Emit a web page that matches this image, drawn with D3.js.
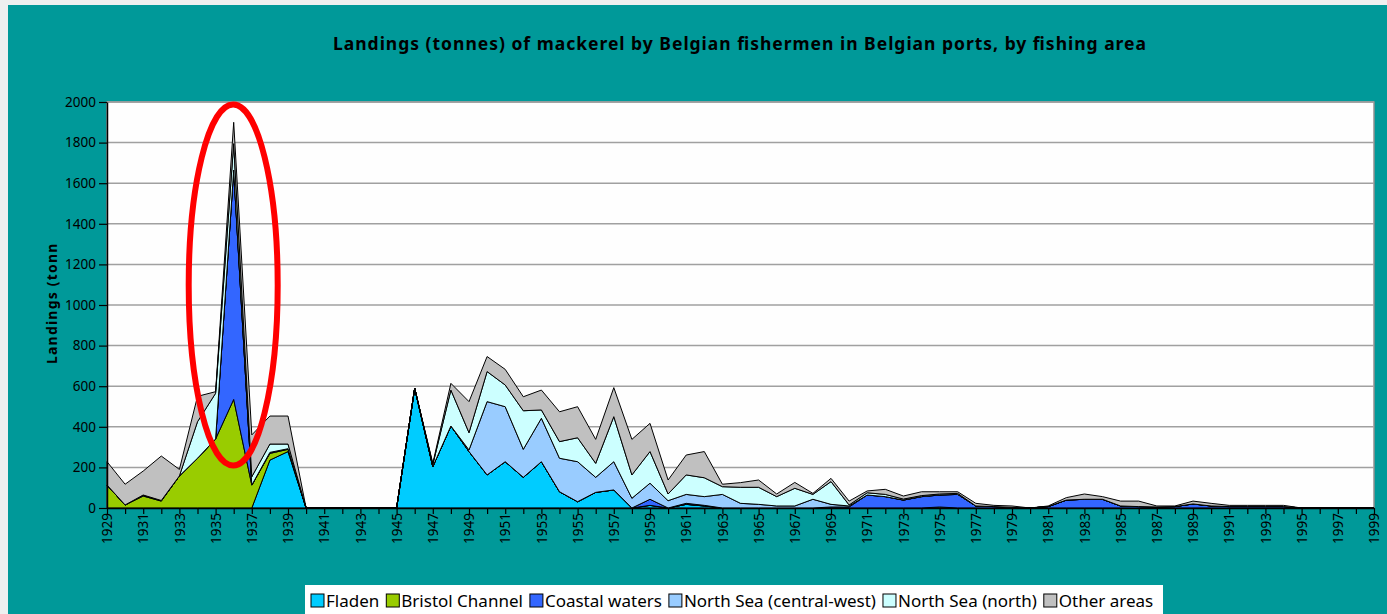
<!DOCTYPE html>
<html>
  <head>
    <meta charset="utf-8">
    <script src="https://cdn.jsdelivr.net/npm/d3@7"></script>
    <style>
      html, body {
        margin: 0;
        padding: 0;
        background: #eef0f0;
        overflow: hidden;
      }
      svg {
        display: block;
        font-family: 'Noto Sans', sans-serif;
      }
    </style>
  </head>
  <body>
    <svg width="1387" height="614"></svg>
    <script>
      // years on the category axis
      const years = d3.range(1929, 2000);
      const seriesNames = ["Fladen", "Bristol Channel", "Coastal waters",
        "North Sea (central-west)", "North Sea (north)", "Other areas"];
      const seriesColors = ["#00ccff", "#99cc00", "#3366ff", "#99ccff", "#ccffff", "#c0c0c0"];
      const yTicks = [0, 200, 400, 600, 800, 1000, 1200, 1400, 1600, 1800, 2000];

      // tonnes per year, 1929..1999
      const fladen = [
        0, 0, 0, 0, 0, 0, 0, 0, 0, 236,
        278, 0, 0, 0, 0, 0, 0, 590, 204, 404,
        278, 163, 228, 151, 228, 80, 31, 77, 89, 0,
        13, 0, 18, 10, 0, 0, 0, 0, 0, 0,
        0, 0, 0, 0, 0, 0, 0, 0, 0, 0,
        0, 0, 0, 0, 0, 0, 0, 0, 0, 0,
        0, 0, 0, 0, 0, 0, 0, 0, 0, 0,
        0];
      const bristol = [
        113, 15, 59, 34, 158, 245, 340, 535, 113, 33,
        11, 0, 0, 0, 0, 0, 0, 0, 0, 0,
        0, 0, 0, 0, 0, 0, 0, 0, 0, 0,
        0, 0, 0, 0, 0, 0, 0, 0, 0, 0,
        0, 0, 0, 0, 0, 0, 5, 0, 0, 0,
        0, 0, 0, 0, 0, 0, 0, 0, 0, 0,
        0, 0, 0, 0, 0, 0, 0, 0, 0, 0,
        0];
      const coastal = [
        0, 0, 5, 3, 0, 0, 0, 1130, 0, 5,
        3, 0, 0, 0, 0, 0, 0, 0, 0, 0,
        0, 0, 0, 0, 0, 0, 0, 0, 0, 0,
        30, 0, 5, 3, 0, 0, 0, 0, 0, 0,
        5, 5, 64, 56, 39, 56, 59, 67, 10, 7,
        3, 0, 7, 39, 43, 43, 10, 7, 5, 7,
        20, 10, 7, 7, 7, 7, 0, 0, 0, 0,
        0];
      const nsCentralWest = [
        0, 0, 0, 0, 0, 0, 0, 0, 0, 0,
        0, 0, 0, 0, 0, 0, 0, 0, 0, 0,
        8, 361, 271, 138, 214, 165, 197, 74, 139, 48,
        79, 36, 44, 43, 67, 23, 18, 10, 10, 43,
        13, 5, 0, 0, 0, 0, 0, 0, 0, 0,
        0, 0, 0, 0, 0, 0, 0, 0, 0, 0,
        0, 0, 0, 0, 0, 0, 0, 0, 0, 0,
        0];
      const nsNorth = [
        0, 0, 0, 0, 0, 180, 225, 130, 41, 41,
        23, 0, 0, 0, 0, 0, 0, 0, 10, 177,
        85, 148, 107, 190, 41, 82, 118, 69, 222, 115,
        156, 33, 96, 93, 38, 79, 84, 46, 87, 24,
        112, 5, 11, 11, 5, 5, 5, 5, 0, 0,
        0, 0, 0, 0, 0, 0, 0, 0, 0, 0,
        0, 0, 0, 0, 0, 0, 0, 0, 0, 0,
        0];
      const otherAreas = [
        115, 102, 118, 219, 32, 125, 8, 105, 206, 138,
        138, 0, 0, 0, 0, 0, 0, 0, 6, 33,
        153, 74, 77, 69, 98, 147, 153, 118, 143, 175,
        139, 69, 98, 129, 12, 23, 36, 13, 29, 5,
        16, 19, 9, 25, 15, 19, 11, 8, 13, 6,
        7, 0, 3, 12, 26, 13, 24, 27, 5, 3,
        14, 13, 6, 6, 6, 6, 0, 0, 0, 0,
        0];

      const seriesValues = [fladen, bristol, coastal, nsCentralWest, nsNorth, otherAreas];
      const table = years.map((yr, i) => {
        const row = { year: yr };
        seriesNames.forEach((k, j) => row[k] = seriesValues[j][i]);
        return row;
      });

      const svg = d3.select("svg");
      const plotLeft = 107, plotRight = 1374, plotTop = 102, plotBottom = 508;

      // teal frame
      svg.append("rect")
        .attr("x", 8).attr("y", 5)
        .attr("width", 1387 - 8).attr("height", 614 - 5)
        .attr("fill", "#009999");

      svg.append("text")
        .attr("x", 333).attr("y", 50)
        .attr("font-size", "17.5px")
        .attr("font-weight", "bold")
        .attr("fill", "#000")
        .attr("textLength", 813)
        .attr("lengthAdjust", "spacing")
        .text("Landings (tonnes) of mackerel by Belgian fishermen in Belgian ports, by fishing area");

      const x = d3.scaleLinear().domain([1929, 1999]).range([plotLeft, plotRight]);
      const y = d3.scaleLinear().domain([0, 2000]).range([plotBottom, plotTop]);

      // plot area
      svg.append("rect")
        .attr("x", plotLeft).attr("y", plotTop)
        .attr("width", plotRight - plotLeft).attr("height", plotBottom - plotTop)
        .attr("fill", "#fefefe")
        .attr("stroke", "#909090")
        .attr("stroke-width", 1.5);

      svg.append("g")
        .selectAll("line")
        .data(yTicks.slice(1))
        .join("line")
        .attr("x1", plotLeft).attr("x2", plotRight)
        .attr("y1", d => y(d)).attr("y2", d => y(d))
        .attr("stroke", "#a0a0a0")
        .attr("stroke-width", 1.5);

      // stacked areas
      const stack = d3.stack().keys(seriesNames);
      const layers = stack(table);
      const area = d3.area()
        .x(d => x(d.data.year))
        .y0(d => y(d[0]))
        .y1(d => y(d[1]));

      svg.append("g")
        .selectAll("path")
        .data(layers)
        .join("path")
        .attr("d", area)
        .attr("fill", (d, i) => seriesColors[i])
        .attr("stroke", "#000")
        .attr("stroke-width", 1)
        .attr("stroke-linejoin", "round");

      // y axis
      const yAxis = svg.append("g")
        .attr("transform", `translate(${plotLeft},0)`)
        .call(d3.axisLeft(y).tickValues(yTicks).tickFormat(d3.format("d"))
          .tickSize(8).tickPadding(3).tickSizeOuter(0));
      yAxis.select(".domain").attr("stroke", "#000").attr("stroke-width", 1.5);
      yAxis.selectAll(".tick line").attr("stroke", "#000").attr("stroke-width", 1.2);
      yAxis.selectAll(".tick text")
        .attr("font-size", "13.5px")
        .attr("font-family", "'Noto Sans', sans-serif")
        .attr("fill", "#000");

      // x axis
      const xAxis = svg.append("g")
        .attr("transform", `translate(0,${plotBottom})`)
        .call(d3.axisBottom(x).tickValues(years).tickSize(6).tickSizeOuter(0).tickFormat(d3.format("d")));
      xAxis.select(".domain").attr("stroke", "#000").attr("stroke-width", 1.5);
      xAxis.selectAll(".tick line").attr("stroke", "#000").attr("stroke-width", 1.2);
      xAxis.selectAll(".tick text")
        .attr("font-size", "13.5px")
        .attr("font-family", "'Noto Sans', sans-serif")
        .attr("fill", "#000")
        .attr("text-anchor", "end")
        .attr("transform", "rotate(-90)")
        .attr("x", -5).attr("y", 0).attr("dy", "0.35em")
        .style("display", d => (d - 1929) % 2 === 0 ? null : "none");

      // y axis title, clipped like the original
      svg.append("clipPath").attr("id", "ylabClip")
        .append("rect").attr("x", 30).attr("y", 244).attr("width", 40).attr("height", 140);
      svg.append("g")
        .attr("clip-path", "url(#ylabClip)")
        .append("text")
        .attr("transform", "translate(57,364) rotate(-90)")
        .attr("font-size", "14px")
        .attr("font-weight", "bold")
        .attr("letter-spacing", "1.2px")
        .attr("fill", "#000")
        .text("Landings (tonnes)");

      // legend
      const legend = svg.append("g");
      legend.append("rect")
        .attr("x", 305).attr("y", 585)
        .attr("width", 858).attr("height", 40)
        .attr("fill", "#fff");
      let lx = 311;
      seriesNames.forEach((name, i) => {
        legend.append("rect")
          .attr("x", lx).attr("y", 594)
          .attr("width", 13).attr("height", 13)
          .attr("fill", seriesColors[i])
          .attr("stroke", "#000").attr("stroke-width", 1);
        const t = legend.append("text")
          .attr("x", lx + 15).attr("y", 607)
          .attr("font-size", "17px")
          .attr("fill", "#000")
          .text(name);
        lx += 15 + t.node().getComputedTextLength() + 7;
      });

      // red highlight ellipse
      svg.append("ellipse")
        .attr("cx", x(1936) - 0.5).attr("cy", 285)
        .attr("rx", 44.5).attr("ry", 180.5)
        .attr("fill", "none")
        .attr("stroke", "#ff0000")
        .attr("stroke-width", 6);
    </script>
  </body>
</html>
